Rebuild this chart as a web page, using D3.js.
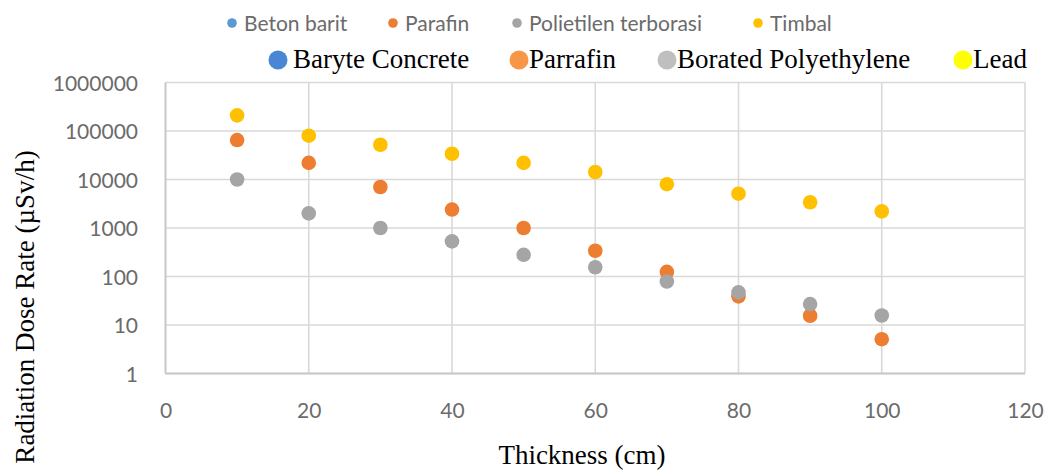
<!DOCTYPE html>
<html>
<head>
<meta charset="utf-8">
<script src="https://cdn.jsdelivr.net/npm/d3@7"></script>
<style>
  html, body { margin: 0; padding: 0; background: #fff; }
  svg { display: block; }
</style>
</head>
<body>
<svg id="chart" width="1047" height="472"></svg>
<script>
// Shielding thickness (cm)
const thickness = [10, 20, 30, 40, 50, 60, 70, 80, 90, 100];

// Dose rate behind each shield (µSv/h)
const betonBarit = [];
const parafin = [65000, 22000, 7000, 2400, 1000, 340, 125, 39, 15.5, 5.1];
const polietilenTerborasi = [10000, 2000, 1000, 530, 280, 155, 79, 47, 27, 15.7];
const timbal = [210000, 80000, 52000, 34000, 22000, 14300, 8000, 5100, 3400, 2200];

// Axis ticks
const xTicks = [0, 20, 40, 60, 80, 100, 120];
const yTicks = [1, 10, 100, 1000, 10000, 100000, 1000000];

// Legend labels (Indonesian row and English row)
const legendTop = ["Beton barit", "Parafin", "Polietilen terborasi", "Timbal"];
const legendBottom = ["Baryte Concrete", "Parrafin", "Borated Polyethylene", "Lead"];

const seriesColors = ["#5B9BD5", "#ED7D31", "#A5A5A5", "#FFC000"];
const legendBottomColors = ["#4A86D4", "#F79646", "#BFBFBF", "#FFFF00"];

const svg = d3.select("#chart");
const plot = { left: 165.5, right: 1025, top: 82.5, bottom: 373.5 };

const x = d3.scaleLinear().domain([0, 120]).range([plot.left, plot.right]);
const y = d3.scaleLog().domain([1, 1000000]).range([plot.bottom, plot.top]);

const gridColor = "#D9D9D9";
const tickFont = "Lato, 'Open Sans', sans-serif";
const tickColor = "#6B6B6B";

// Gridlines
svg.append("g").selectAll("line").data(yTicks).join("line")
  .attr("x1", plot.left).attr("x2", plot.right)
  .attr("y1", d => y(d)).attr("y2", d => y(d))
  .attr("stroke", gridColor).attr("stroke-width", 1.6);

svg.append("g").selectAll("line").data(xTicks).join("line")
  .attr("x1", d => x(d)).attr("x2", d => x(d))
  .attr("y1", plot.top).attr("y2", plot.bottom)
  .attr("stroke", gridColor).attr("stroke-width", 1.6);

// Axis lines
svg.append("line")
  .attr("x1", plot.left).attr("x2", plot.right)
  .attr("y1", plot.bottom).attr("y2", plot.bottom)
  .attr("stroke", "#C8C8C8").attr("stroke-width", 1.8);
svg.append("line")
  .attr("x1", plot.left).attr("x2", plot.left)
  .attr("y1", plot.top).attr("y2", plot.bottom)
  .attr("stroke", "#C8C8C8").attr("stroke-width", 1.8);

// Y axis labels
const yAxis = d3.axisLeft(y).tickValues(yTicks).tickFormat(d3.format("d")).tickSize(0).tickPadding(0);
const yg = svg.append("g").attr("transform", `translate(${138},0)`).call(yAxis);
yg.select(".domain").remove();
yg.selectAll("text")
  .attr("x", 0).attr("dy", "0.36em")
  .style("font-family", tickFont).style("font-size", "21px").attr("fill", tickColor);

// X axis labels
const xAxis = d3.axisBottom(x).tickValues(xTicks).tickFormat(d3.format("d")).tickSize(0).tickPadding(0);
const xg = svg.append("g").attr("transform", `translate(0,${418})`).call(xAxis);
xg.select(".domain").remove();
xg.selectAll("text")
  .attr("y", 0).attr("dy", 0)
  .style("font-family", tickFont).style("font-size", "21px").attr("fill", tickColor);

// Axis titles
svg.append("text")
  .attr("x", 582).attr("y", 464)
  .attr("text-anchor", "middle")
  .style("font-family", "'Liberation Serif', 'Times New Roman', serif")
  .style("font-size", "27px").attr("fill", "#000")
  .text("Thickness (cm)");

svg.append("text")
  .attr("transform", "translate(34,307) rotate(-90)")
  .attr("text-anchor", "middle")
  .style("font-family", "'Liberation Serif', 'Times New Roman', serif")
  .style("font-size", "27px").attr("fill", "#000")
  .text("Radiation Dose Rate (µSv/h)");

// Scatter series, drawn in legend order
const series = [betonBarit, parafin, polietilenTerborasi, timbal];
series.forEach((vals, i) => {
  svg.append("g").selectAll("circle")
    .data(vals.map((v, j) => ({ t: thickness[j], v })))
    .join("circle")
    .attr("cx", d => x(d.t))
    .attr("cy", d => y(d.v))
    .attr("r", 7.3)
    .attr("fill", seriesColors[i]);
});

// Legend, top row
const topMarkers = [232, 393, 517, 758];
legendTop.forEach((label, i) => {
  svg.append("circle").attr("cx", topMarkers[i]).attr("cy", 23).attr("r", 4.8).attr("fill", seriesColors[i]);
  svg.append("text")
    .attr("x", topMarkers[i] + 12).attr("y", 30.5)
    .style("font-family", tickFont).style("font-size", "21px").attr("fill", tickColor)
    .text(label);
});

// Legend, bottom row
const bottomMarkers = [278, 519, 667, 963];
const bottomText = [293, 529, 677, 973];
legendBottom.forEach((label, i) => {
  svg.append("circle").attr("cx", bottomMarkers[i]).attr("cy", 60).attr("r", 9.5).attr("fill", legendBottomColors[i]);
  svg.append("text")
    .attr("x", bottomText[i]).attr("y", 68)
    .style("font-family", "'Liberation Serif', 'Times New Roman', serif")
    .style("font-size", "27px").attr("fill", "#000")
    .text(label);
});
</script>
</body>
</html>
